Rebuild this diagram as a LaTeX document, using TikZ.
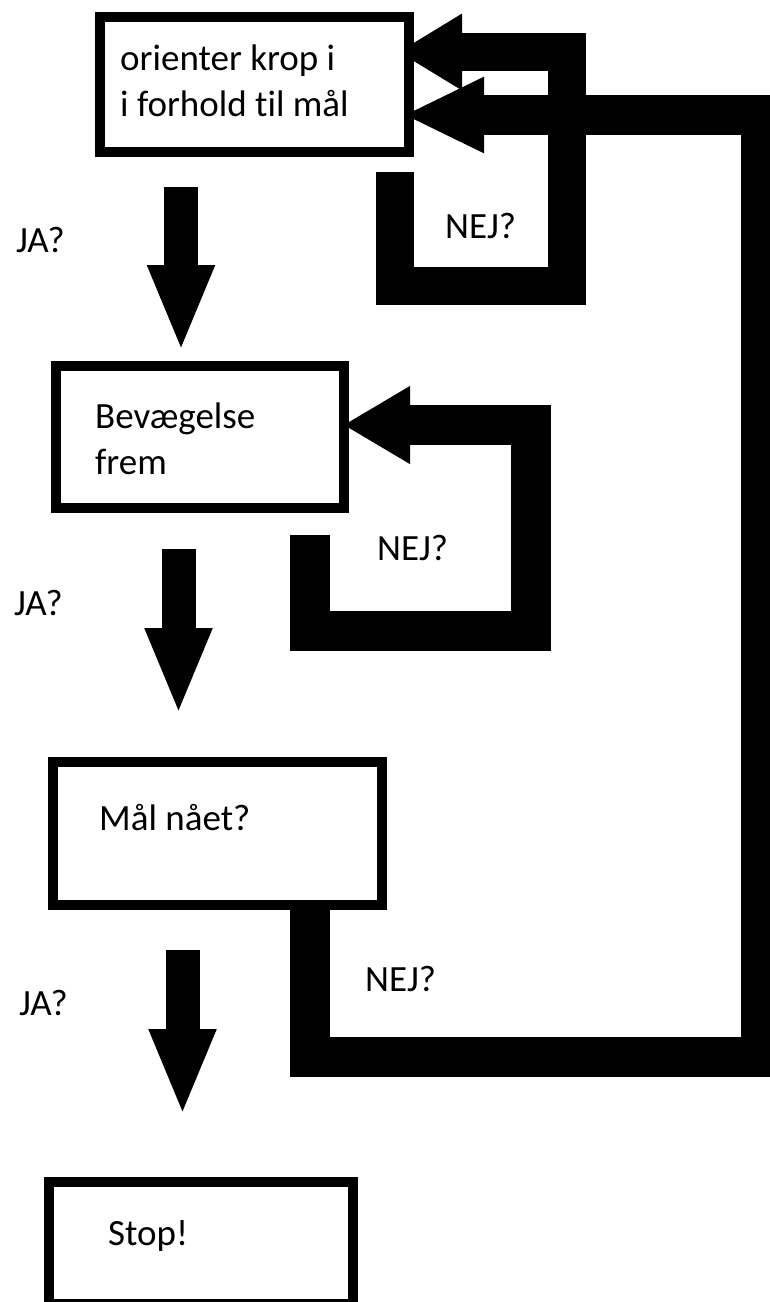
\documentclass[tikz,border=0pt]{standalone}
\usepackage{fontspec}
\setmainfont{Carlito}[Ligatures=NoCommon]
\usetikzlibrary{arrows.meta,calc}
\pgfdeclarelayer{bg}
\pgfsetlayers{bg,main}
\begin{document}
\begin{tikzpicture}[x=1pt,y=-1pt,
  box/.style={draw=black,fill=white,line width=10pt,inner sep=0pt},
  lbl/.style={anchor=base west,inner sep=0pt,font=\fontsize{37}{46}\selectfont},
  downarrow/.style={line width=34pt,-{Triangle[length=87pt 0 0,width=61pt 0 0]}},
  loopline/.style={line width=#1,line join=miter}]
\useasboundingbox (0,0) rectangle (770,1302);
\clip (0,0) rectangle (770,1302);

% boxes (white filled, drawn over the arrow tips)
\node[box,minimum width=309pt,minimum height=135pt] (b1) at (254.5,84.5) {};
\node[box,minimum width=288pt,minimum height=142pt] (b2) at (200,437) {};
\node[box,minimum width=329pt,minimum height=143pt] (b3) at (217.5,833.5) {};
\node[box,minimum width=304pt,minimum height=122pt] (b4) at (201,1243) {};

% box texts
\node[lbl] (t1a) at (120,70) {orienter krop i};
\node[lbl] (t1b) at (120,116) {i forhold til mål};
\node[lbl] (t2a) at (95,428) {Bevægelse};
\node[lbl] (t2b) at (95,474) {frem};
\node[lbl] (t3) at (99,830) {Mål nået?};
\node[lbl] (t4) at (108,1245) {Stop!};

% side labels
\node[lbl] (ja1) at (16,252) {JA?};
\node[lbl] (ja2) at (14,615) {JA?};
\node[lbl] (ja3) at (19,1015) {JA?};
\node[lbl] (nej1) at (445,238) {NEJ?};
\node[lbl] (nej2) at (377,560) {NEJ?};
\node[lbl] (nej3) at (365,991) {NEJ?};

\begin{pgfonlayer}{bg}
\fill[white] (0,0) rectangle (770,1302);

% down arrows (JA)
\coordinate (a1s) at (181,187);   \coordinate (a1e) at (181,352);
\coordinate (a2s) at (178.5,549); \coordinate (a2e) at (178.5,715);
\coordinate (a3s) at (182.5,950); \coordinate (a3e) at (182.5,1116);
\draw[downarrow] (a1s) -- (a1e);
\draw[downarrow] (a2s) -- (a2e);
\draw[downarrow] (a3s) -- (a3e);

% loop back to box 1 (inner)
\coordinate (l1s) at (395,172);
\draw[loopline=38pt,-{Triangle[length=64pt 0 0,width=72pt 0 0]}]
  (l1s) -- (395,286) -- (567,286) -- (567,52) -- ($(b1.east)+(-16,-32.5)$);

% loop back to box 2
\coordinate (l2s) at (310,535);
\draw[loopline=40pt,-{Triangle[length=67pt 0 0,width=73pt 0 0]}]
  (l2s) -- (310,631) -- (531,631) -- (531,425) -- ($(b2.east)+(-6,-12)$);

% loop from box 3 back to box 1 (outer)
\draw[loopline=40pt,-{Triangle[length=81pt 0 0,width=70pt 0 0]}]
  ($(b3.south)+(92.5,-5)$) -- (310,1057) -- (761,1057) -- (761,115) -- ($(b1.east)+(-11,30.5)$);
\end{pgfonlayer}
\end{tikzpicture}
\end{document}
